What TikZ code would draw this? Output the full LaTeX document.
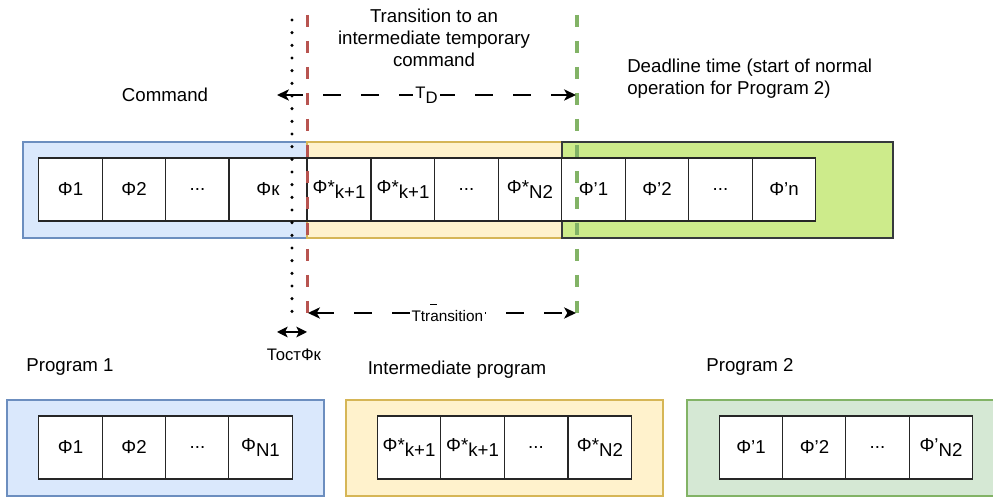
\documentclass[tikz,border=0pt]{standalone}
\usepackage{fontspec}
\setmainfont{Liberation Sans}
\usetikzlibrary{arrows.meta}
\definecolor{bluefill}{HTML}{DAE8FC}
\definecolor{bluedraw}{HTML}{6C8EBF}
\definecolor{yelfill}{HTML}{FFF2CC}
\definecolor{yeldraw}{HTML}{D6B656}
\definecolor{limefill}{HTML}{CDEB8B}
\definecolor{limedraw}{HTML}{36393D}
\definecolor{grnfill}{HTML}{D5E8D4}
\definecolor{grndraw}{HTML}{82B366}
\definecolor{reddash}{HTML}{B85450}
\newcommand{\lsub}[1]{\raisebox{-3.5pt}{#1}}
\newcommand{\ap}{\char"27\relax}
\tikzset{
  box/.style={draw, line width=0.9pt, minimum height=96*0.75pt, inner sep=0pt},
  cellbox/.style={draw=black!85, fill=white, line width=1pt, minimum height=63*0.75pt, minimum width=63.5*0.75pt, inner sep=0pt},
  txt/.style={inner sep=0pt, align=center},
  reddashed/.style={draw=reddash, line width=2.3pt, dash pattern=on 9pt off 10.5pt},
  grndashed/.style={draw=grndraw, line width=2.3pt, dash pattern=on 9pt off 10.5pt},
  dotline/.style={draw=black, line width=2.6pt, line cap=round, dash pattern=on 0pt off 9.5pt},
  timearrow/.style={draw=black, line width=1pt, dash pattern=on 13.5pt off 15pt, {Stealth[length=9pt,width=8.5pt,inset=2.5pt]}-{Stealth[length=9pt,width=8.5pt,inset=2.5pt]}},
  dblarrow/.style={draw=black, line width=1pt, {Stealth[length=8pt,width=8pt,inset=2pt]}-{Stealth[length=8pt,width=8pt,inset=2pt]}},
  arrlabel/.style={fill=white, inner sep=1.5pt, font=\fontsize{11.5}{13}\selectfont}
}
\begin{document}
\begin{tikzpicture}[x=0.75pt,y=-0.75pt,font=\fontsize{14}{16.5}\selectfont]
\useasboundingbox (0,0) rectangle (993,498);
\clip (0,0) rectangle (993,498);
\fill[white] (0,0) rectangle (993,498);

% ---- top row containers
\node[box, draw=bluedraw, fill=bluefill, minimum width=284*0.75pt] (tblue) at (165,190) {};
\node[box, draw=yeldraw, fill=yelfill, minimum width=255*0.75pt] (tyel) at (434.5,190) {};
\node[box, draw=limedraw, fill=limefill, minimum width=331*0.75pt] (tgrn) at (727.5,190) {};

% ---- top row cells
\node[cellbox] (t1) at (70.5,189.5) {Φ1};
\node[cellbox] (t2) at (134,189.5) {Φ2};
\node[cellbox] (t3) at (197.5,189.5) {...};
\node[cellbox, minimum width=78*0.75pt] (t4) at (268,189.5) {Φк};
\node[cellbox] (t5) at (339,189.5) {Φ*\lsub{k+1}};
\node[cellbox] (t6) at (403,189.5) {Φ*\lsub{k+1}};
\node[cellbox] (t7) at (466.5,189.5) {...};
\node[cellbox] (t8) at (530,189.5) {Φ*\lsub{N2}};
\node[cellbox] (t9) at (593.5,189.5) {Φ\ap1};
\node[cellbox] (t10) at (657,189.5) {Φ\ap2};
\node[cellbox] (t11) at (720.5,189.5) {...};
\node[cellbox] (t12) at (784,189.5) {Φ\ap n};

% ---- bottom row containers
\node[box, draw=bluedraw, fill=bluefill, minimum width=317*0.75pt] (bblue) at (165.5,448) {};
\node[box, draw=yeldraw, fill=yelfill, minimum width=317*0.75pt] (byel) at (504.5,448) {};
\node[box, draw=grndraw, fill=grnfill, minimum width=317*0.75pt] (bgrn) at (845.5,448) {};

% ---- bottom row cells
\node[cellbox] (b1) at (70.5,447.5) {Φ1};
\node[cellbox] (b2) at (134,447.5) {Φ2};
\node[cellbox] (b3) at (197.5,447.5) {...};
\node[cellbox] (b4) at (260.5,447.5) {Φ\lsub{N1}};
\node[cellbox] (b5) at (409,447.5) {Φ*\lsub{k+1}};
\node[cellbox] (b6) at (472.5,447.5) {Φ*\lsub{k+1}};
\node[cellbox] (b7) at (536,447.5) {...};
\node[cellbox] (b8) at (600,447.5) {Φ*\lsub{N2}};
\node[cellbox] (b9) at (751,447.5) {Φ\ap1};
\node[cellbox] (b10) at (814.5,447.5) {Φ\ap2};
\node[cellbox] (b11) at (877.5,447.5) {...};
\node[cellbox] (b12) at (941,447.5) {Φ\ap\lsub{N2}};

% ---- vertical time lines
\coordinate (dotTop) at (292,20);
\coordinate (dotBot) at (292,316);
\coordinate (redTop) at (307.5,15);
\coordinate (redBot) at (307.5,316);
\coordinate (grnTop) at (577,15);
\coordinate (grnBot) at (577,316);
\draw[dotline] (dotTop) -- (dotBot);
\draw[reddashed] (redTop) -- (redBot);
\draw[grndashed] (grnTop) -- (grnBot);

% ---- time arrows
\coordinate (tdL) at (277,95);
\coordinate (tdR) at (576,95);
\draw[timearrow] (tdL) -- node[arrlabel, font=\fontsize{12.5}{14}\selectfont] (tdlbl) {T\lsub{D}} (tdR);
\coordinate (ttL) at (308,313);
\coordinate (ttR) at (576,313);
\draw[timearrow] (ttL) -- node[arrlabel, xshift=4pt] (ttlbl) {Ttr\rlap{\raisebox{1.05em}{\rule{0.45em}{0.6pt}}}ansition} (ttR);
\coordinate (dbL) at (277,332);
\coordinate (dbR) at (307,332);
\draw[dblarrow] (dbL) -- (dbR);

% ---- texts
\node[txt] (trans) at (434,38) {Transition to an\\intermediate temporary\\command};
\node[txt] (cmd) at (165,95) {Command};
\node[txt, align=left, anchor=west] (dead) at (627,79) {Deadline time (start of normal\\operation for Program 2)};
\node[txt, font=\fontsize{12.5}{14}\selectfont] (tost) at (294,355) {ТостФк};
\node[txt] (p1) at (70,367) {Program 1};
\node[txt] (pint) at (457,370) {Intermediate program};
\node[txt] (p2) at (750,367) {Program 2};
\end{tikzpicture}
\end{document}
